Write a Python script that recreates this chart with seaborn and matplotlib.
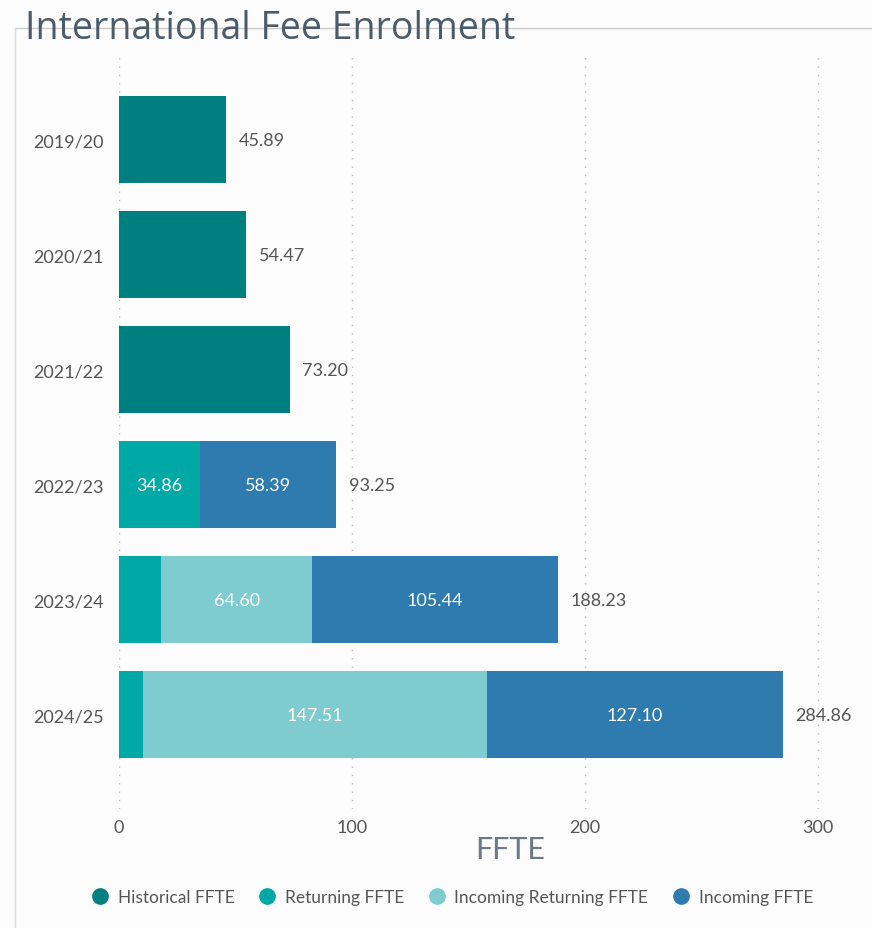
import numpy as np
import pandas as pd
import matplotlib.pyplot as plt
from matplotlib.lines import Line2D
import seaborn as sns

years = ['2019/20', '2020/21', '2021/22', '2022/23', '2023/24', '2024/25']
historical = [45.89, 54.47, 73.20, 0, 0, 0]
returning = [0, 0, 0, 34.86, 18.19, 10.25]
incoming_returning = [0, 0, 0, 0, 64.60, 147.51]
incoming = [0, 0, 0, 58.39, 105.44, 127.10]
totals = [45.89, 54.47, 73.20, 93.25, 188.23, 284.86]

series_names = ['Historical FFTE', 'Returning FFTE', 'Incoming Returning FFTE', 'Incoming FFTE']
colors = ['#007f80', '#00a9a6', '#7ecbd0', '#2e7bb0']

df = pd.DataFrame({'year': years, 'hist': historical, 'ret': returning,
                   'inc_ret': incoming_returning, 'inc': incoming})
# cumulative ends for the overlay-style stacking
df['c1'] = df['hist'] + df['ret']
df['c2'] = df['c1'] + df['inc_ret']
df['c3'] = df['c2'] + df['inc']

sns.set_theme(style='white')
plt.rcParams['font.family'] = ['Lato', 'DejaVu Sans']

fig = plt.figure(figsize=(8.72, 9.29), dpi=100, facecolor='#fcfcfc')
ax = fig.add_axes([119/872, (929-810)/929, (853-119)/872, 752/929])
ax.set_facecolor('#fcfcfc')

# draw from widest to narrowest so each segment sits on top
for col, c in zip(['c3', 'c2', 'c1', 'hist'], colors[::-1]):
    sns.barplot(data=df, x=col, y='year', orient='h', color=c, width=0.76,
                ax=ax, saturation=1, linewidth=0)

ax.set_xlim(0, 315)
ax.set_ylim(5.82, -0.72)
ax.set_xticks([0, 100, 200, 300])
ax.set_xticklabels(['0', '100', '200', '300'])
ax.tick_params(axis='x', length=0, pad=7, labelsize=13, labelcolor='#555555')
ax.tick_params(axis='y', length=0, pad=11, labelsize=13, labelcolor='#555555')
ax.set_xlabel('')
ax.set_ylabel('')
for s in ax.spines.values():
    s.set_visible(False)
for xv in [0, 100, 200, 300]:
    ax.axvline(xv, color='#bbbbbb', lw=1, ls=(0, (1, 5)), zorder=0)

# segment labels inside bars
for i in range(len(years)):
    left = df['hist'][i]
    segs = [df['ret'][i], df['inc_ret'][i], df['inc'][i]]
    for val in segs:
        if val > 30:
            ax.text(left + val / 2, i, f'{val:.2f}', ha='center', va='center',
                    color='white', fontsize=13)
        left += val
    ax.text(totals[i] + 5.5, i, f'{totals[i]:.2f}', ha='left', va='center',
            color='#555555', fontsize=13)

fig.text(510/872, 1 - 850/929, 'FFTE', ha='center', va='center', fontsize=22, color='#6b7a88')

# frame lines
fig.add_artist(Line2D([15/872, 1], [1 - 29/929, 1 - 29/929], color='#cccccc', lw=1))
fig.add_artist(Line2D([15/872, 15/872], [0, 1 - 29/929], color='#dddddd', lw=1))

fig.text(25/872, 1 - 29/929, 'International Fee Enrolment', ha='left', va='center',
         fontsize=27, color='#4b5b69', family=['Open Sans', 'DejaVu Sans'])

handles = [Line2D([], [], marker='o', ls='', markersize=11, markerfacecolor=c,
                  markeredgecolor=c) for c in colors]
fig.legend(handles, series_names, loc='center', bbox_to_anchor=(448/872, 1 - 898/929),
           ncol=4, frameon=False, fontsize=12.5, handletextpad=0.0, columnspacing=0.9,
           labelcolor='#555555')

fig.savefig('out.png', dpi=100, facecolor=fig.get_facecolor())
